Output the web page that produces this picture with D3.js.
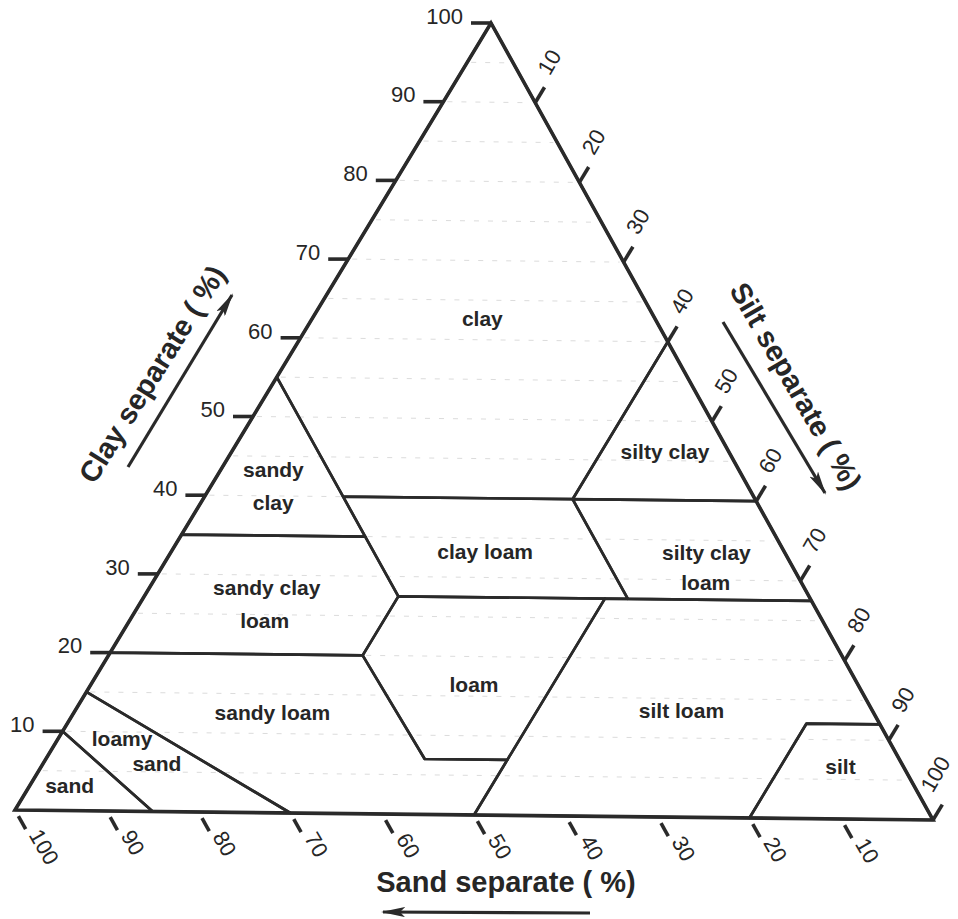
<!DOCTYPE html>
<html>
<head>
<meta charset="utf-8">
<script src="https://cdn.jsdelivr.net/npm/d3@7"></script>
<style>
  html, body { margin: 0; padding: 0; background: #fff; }
  svg { display: block; }
  text { font-family: "Liberation Sans", Arial, Helvetica, sans-serif; fill: #262626; }
</style>
</head>
<body>
<svg id="chart" width="958" height="919"></svg>
<script>
// USDA soil texture classes, vertices as [sand, silt, clay] percent
const classNames = ["clay", "sandy clay", "silty clay", "clay loam", "silty clay loam",
  "sandy clay loam", "loam", "silt loam", "silt", "sandy loam", "loamy sand", "sand"];
const classVertices = [
  [[0, 0, 100], [0, 40, 60], [20, 40, 40], [45, 15, 40], [45, 0, 55]],
  [[45, 0, 55], [45, 15, 40], [45, 20, 35], [65, 0, 35]],
  [[0, 40, 60], [0, 60, 40], [20, 40, 40]],
  [[20, 40, 40], [45, 15, 40], [45, 27.5, 27.5], [20, 52.5, 27.5]],
  [[0, 60, 40], [0, 72.5, 27.5], [20, 52.5, 27.5], [20, 40, 40]],
  [[65, 0, 35], [45, 20, 35], [45, 27.5, 27.5], [52.5, 27.5, 20], [80, 0, 20]],
  [[45, 27.5, 27.5], [22.5, 50, 27.5], [43, 50, 7], [52, 41, 7], [52.5, 27.5, 20]],
  [[22.5, 50, 27.5], [0, 72.5, 27.5], [0, 88, 12], [8, 80, 12], [20, 80, 0], [50, 50, 0], [43, 50, 7]],
  [[0, 88, 12], [0, 100, 0], [20, 80, 0], [8, 80, 12]],
  [[80, 0, 20], [52.5, 27.5, 20], [52, 41, 7], [43, 50, 7], [50, 50, 0], [70, 30, 0], [85, 0, 15]],
  [[85, 0, 15], [70, 30, 0], [85, 15, 0], [90, 0, 10]],
  [[90, 0, 10], [85, 15, 0], [100, 0, 0]]
];

// class label lines, anchored at a composition (silt %, clay %)
const labelLines = ["clay", "sandy", "clay", "silty clay", "clay loam", "silty clay", "loam",
  "sandy clay", "loam", "loam", "silt loam", "sandy loam", "loamy", "sand", "sand", "silt"];
const labelSilt = [18.4, 5.7, 7.8, 46.9, 34.0, 58.0, 59.9, 12.7, 14.6, 41.5, 65.6, 21.5, 6.9, 12.3, 4.3, 86.5];
const labelClay = [62.7, 43.3, 39.2, 46.1, 33.2, 33.4, 29.6, 28.4, 24.3, 16.4, 13.5, 12.6, 9.2, 6.1, 3.2, 6.6];

const tickValues = [10, 20, 30, 40, 50, 60, 70, 80, 90, 100];
const gridClay = [5, 10, 15, 20, 25, 30, 35, 40, 45, 50, 55, 60, 65, 70, 75, 80, 85, 90, 95];

const axisTitles = ["Clay separate ( %)", "Silt separate ( %)", "Sand separate ( %)"];

// triangle corners on the page
const cornerSand = [15, 810], cornerSilt = [933, 820], cornerClay = [491, 23];

const frac = d3.scaleLinear().domain([0, 100]).range([0, 1]);

function project(sand, silt, clay) {
  const a = frac(sand), b = frac(silt), c = frac(clay);
  return [
    a * cornerSand[0] + b * cornerSilt[0] + c * cornerClay[0],
    a * cornerSand[1] + b * cornerSilt[1] + c * cornerClay[1]
  ];
}

function unit(p, q) {
  const dx = q[0] - p[0], dy = q[1] - p[1], l = Math.hypot(dx, dy);
  return [dx / l, dy / l];
}

const svg = d3.select("#chart");
const line = d3.line();
const ink = "#2a2a2a";

// faint scan-like grid
const grid = svg.append("g");
grid.selectAll("line")
  .data(gridClay)
  .join("line")
  .attr("x1", (d) => project(100 - d, 0, d)[0] + 4)
  .attr("y1", (d) => project(100 - d, 0, d)[1])
  .attr("x2", (d) => project(0, 100 - d, d)[0] - 4)
  .attr("y2", (d) => project(0, 100 - d, d)[1])
  .attr("stroke", "#dcdcdc")
  .attr("stroke-width", 1)
  .attr("stroke-dasharray", "5,9");

// class boundaries
svg.append("g")
  .selectAll("path")
  .data(classVertices)
  .join("path")
  .attr("d", (d) => line(d.map((v) => project(v[0], v[1], v[2]))) + "Z")
  .attr("fill", "none")
  .attr("stroke", ink)
  .attr("stroke-width", 2.7)
  .attr("stroke-linejoin", "round")
  .append("title")
  .text((d, i) => classNames[i]);

// outer triangle
svg.append("path")
  .attr("d", line([project(100, 0, 0), project(0, 100, 0), project(0, 0, 100)]) + "Z")
  .attr("fill", "none")
  .attr("stroke", ink)
  .attr("stroke-width", 3.6)
  .attr("stroke-linejoin", "miter");

// class labels
svg.append("g")
  .selectAll("text")
  .data(labelLines)
  .join("text")
  .attr("x", (d, i) => project(100 - labelSilt[i] - labelClay[i], labelSilt[i], labelClay[i])[0])
  .attr("y", (d, i) => project(100 - labelSilt[i] - labelClay[i], labelSilt[i], labelClay[i])[1])
  .attr("dy", "0.35em")
  .attr("text-anchor", "middle")
  .attr("font-size", 21)
  .attr("font-weight", "bold")
  .text((d) => d);

// clay axis (left edge)
const clayAxis = svg.append("g");
clayAxis.selectAll("line")
  .data(tickValues)
  .join("line")
  .attr("x1", (d) => project(100 - d, 0, d)[0] - 20)
  .attr("x2", (d) => project(100 - d, 0, d)[0])
  .attr("y1", (d) => project(100 - d, 0, d)[1])
  .attr("y2", (d) => project(100 - d, 0, d)[1])
  .attr("stroke", ink)
  .attr("stroke-width", 3.6);
clayAxis.selectAll("text")
  .data(tickValues)
  .join("text")
  .attr("x", (d) => project(100 - d, 0, d)[0] - 28)
  .attr("y", (d) => project(100 - d, 0, d)[1] - 7)
  .attr("dy", "0.35em")
  .attr("text-anchor", "end")
  .attr("font-size", 22)
  .text((d) => d);

// silt axis (right edge), ticks run parallel to the left edge
const siltDir = unit(cornerSand, cornerClay);
const siltAxis = svg.append("g");
siltAxis.selectAll("line")
  .data(tickValues)
  .join("line")
  .attr("x1", (d) => project(0, d, 100 - d)[0])
  .attr("y1", (d) => project(0, d, 100 - d)[1])
  .attr("x2", (d) => project(0, d, 100 - d)[0] + 18 * siltDir[0])
  .attr("y2", (d) => project(0, d, 100 - d)[1] + 18 * siltDir[1])
  .attr("stroke", ink)
  .attr("stroke-width", 3.6);
siltAxis.selectAll("text")
  .data(tickValues)
  .join("text")
  .attr("transform", (d) => {
    const p = project(0, d, 100 - d);
    // keep the last label inside the page edge
    const dx = d === 100 ? -7 : 8;
    return `translate(${p[0] + dx},${p[1] - 30}) rotate(-60)`;
  })
  .attr("dy", "0.35em")
  .attr("text-anchor", "start")
  .attr("font-size", 22)
  .text((d) => d);

// sand axis (bottom edge), ticks run parallel to the right edge
const sandDir = unit(cornerClay, cornerSilt);
const sandAxis = svg.append("g");
sandAxis.selectAll("line")
  .data(tickValues)
  .join("line")
  .attr("x1", (d) => project(d, 100 - d, 0)[0] + 7 * sandDir[0])
  .attr("y1", (d) => project(d, 100 - d, 0)[1] + 7 * sandDir[1])
  .attr("x2", (d) => project(d, 100 - d, 0)[0] + 22 * sandDir[0])
  .attr("y2", (d) => project(d, 100 - d, 0)[1] + 22 * sandDir[1])
  .attr("stroke", ink)
  .attr("stroke-width", 3.6);
sandAxis.selectAll("text")
  .data(tickValues)
  .join("text")
  .attr("transform", (d) => {
    const p = project(d, 100 - d, 0);
    return `translate(${p[0] + 20},${p[1] + 21}) rotate(60)`;
  })
  .attr("dy", "0.35em")
  .attr("text-anchor", "start")
  .attr("font-size", 22)
  .text((d) => d);

// axis titles with arrows
const defs = svg.append("defs");
defs.append("marker")
  .attr("id", "head")
  .attr("viewBox", "0 0 24 10")
  .attr("refX", 22)
  .attr("refY", 5)
  .attr("markerWidth", 24)
  .attr("markerHeight", 10)
  .attr("markerUnits", "userSpaceOnUse")
  .attr("orient", "auto")
  .append("path")
  .attr("d", "M0,0 L24,5 L0,10 L5,5 Z")
  .attr("fill", ink);

const titleSpots = [
  { x: 152, y: 374, r: -58 },
  { x: 796, y: 386, r: 60 },
  { x: 506, y: 882, r: 0 }
];
const arrowSpots = [
  [[128, 467], [232, 295]],
  [[723, 322], [825, 493]],
  [[590, 913], [383, 912]]
];

svg.append("g")
  .selectAll("text")
  .data(axisTitles)
  .join("text")
  .attr("transform", (d, i) => `translate(${titleSpots[i].x},${titleSpots[i].y}) rotate(${titleSpots[i].r})`)
  .attr("dy", "0.35em")
  .attr("text-anchor", "middle")
  .attr("font-size", 29)
  .attr("font-weight", "bold")
  .text((d) => d);

svg.append("g")
  .selectAll("path")
  .data(arrowSpots)
  .join("path")
  .attr("d", (d) => line(d))
  .attr("stroke", ink)
  .attr("stroke-width", 3.2)
  .attr("fill", "none")
  .attr("marker-end", "url(#head)");
</script>
</body>
</html>
